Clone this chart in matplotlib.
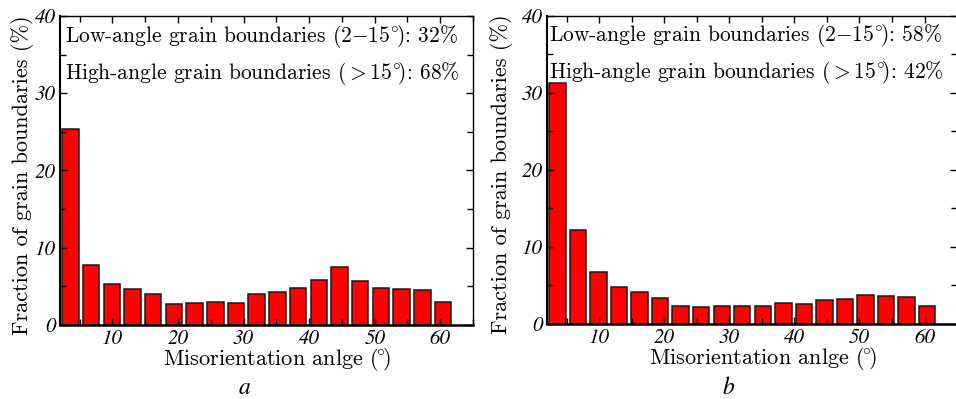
import numpy as np
import matplotlib
matplotlib.use('Agg')
import matplotlib.pyplot as plt
from matplotlib.ticker import MultipleLocator

plt.rcParams['mathtext.fontset'] = 'cm'

# Données (fraction en %, 19 classes entre 2 et 62 degrés)
bin_lo, bin_hi, n_bins = 2, 62, 19
frac_a = [25.4, 7.8, 5.3, 4.6, 4.05, 2.7, 2.8, 3.0, 2.8, 4.05,
          4.3, 4.75, 5.8, 7.5, 5.65, 4.85, 4.65, 4.5, 3.0]
frac_b = [31.3, 12.2, 6.8, 4.85, 4.15, 3.4, 2.4, 2.2, 2.35, 2.35,
          2.35, 2.7, 2.55, 3.15, 3.3, 3.8, 3.6, 3.5, 2.4]
notes_a = [r'Low-angle grain boundaries $(2{-}15^{\circ}\!)$: 32%',
           r'High-angle grain boundaries $({>}15^{\circ}\!)$: 68%']
notes_b = [r'Low-angle grain boundaries $(2{-}15^{\circ}\!)$: 58%',
           r'High-angle grain boundaries $({>}15^{\circ}\!)$: 42%']
xlabel = r'Misorientation anlge $(\!{}^{\circ}\!)$'
ylabel = 'Fraction of grain boundaries (%)'

TXT = 'cmr10'
TICK = dict(family='STIXGeneral', style='italic', size=15)

edges = np.linspace(bin_lo, bin_hi, n_bins + 1)
centers = (edges[:-1] + edges[1:]) / 2
width = (edges[1] - edges[0]) * 0.8

fig = plt.figure(figsize=(9.56, 3.99), dpi=100)
ax_a = fig.add_axes([0.0628, 0.1855, 0.432, 0.7744])
ax_b = fig.add_axes([0.5722, 0.188, 0.4289, 0.772])

def draw(ax, vals, notes, ylab_x, note_x):
    ax.bar(centers, vals, width=width, color='#ff0000', edgecolor='#1a1a1a', linewidth=1.1)
    ax.set_xlim(2, 65); ax.set_ylim(0, 40)
    ax.xaxis.set_major_locator(MultipleLocator(10)); ax.xaxis.set_minor_locator(MultipleLocator(5))
    ax.yaxis.set_major_locator(MultipleLocator(10)); ax.yaxis.set_minor_locator(MultipleLocator(5))
    ax.tick_params(which='both', direction='in', top=True, right=True, width=1)
    ax.tick_params(which='major', length=5, pad=3); ax.tick_params(which='minor', length=4)
    ax.set_xticks([10, 20, 30, 40, 50, 60])
    ax.set_xticklabels(['10', '20', '30', '40', '50', '60'], **TICK)
    ax.set_yticks([0, 10, 20, 30, 40])
    ax.set_yticklabels(['0', '10', '20', '30', '40'], **TICK)
    for s in ['top', 'right']: ax.spines[s].set_linewidth(1.0)
    ax.spines['left'].set_linewidth(1.5); ax.spines['bottom'].set_linewidth(1.8)
    ax.set_xlabel(xlabel, family=TXT, size=16, va='center')
    ax.xaxis.set_label_coords(0.525, -0.113)
    ax.set_ylabel(ylabel, family=TXT, size=16, va='center')
    ax.yaxis.set_label_coords(ylab_x, 0.485)
    ax.text(note_x, 37.4, notes[0], family=TXT, size=15.5, va='center', transform=ax.get_yaxis_transform())
    ax.text(note_x, 32.6, notes[1], family=TXT, size=15.5, va='center', transform=ax.get_yaxis_transform())

draw(ax_a, frac_a, notes_a, -0.092, 0.012)
draw(ax_b, frac_b, notes_b, -0.11, 0.005)

fig.text(245/956, 1 - 388/399, 'a', family='STIXGeneral', style='italic', size=17, ha='center', va='center')
fig.text(728/956, 1 - 388/399, 'b', family='STIXGeneral', style='italic', size=17, ha='center', va='center')

plt.savefig('out.png', dpi=100)
